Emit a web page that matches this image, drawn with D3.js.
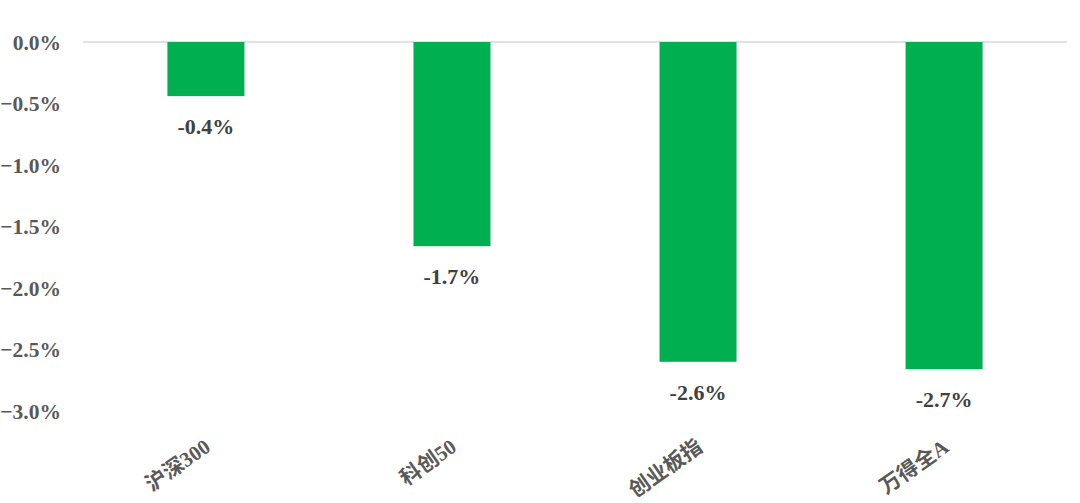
<!DOCTYPE html>
<html>
<head>
<meta charset="utf-8">
<script src="https://cdn.jsdelivr.net/npm/d3@7"></script>
<style>
  body { margin: 0; background: #fff; }
  text { font-family: "Liberation Serif", "Noto Sans CJK SC", serif; font-weight: bold; }
</style>
</head>
<body>
<svg id="chart" width="1080" height="503"></svg>
<script>
// index names and period returns (%)
var categories = ["沪深300", "科创50", "创业板指", "万得全A"];
var values = [-0.44, -1.66, -2.60, -2.66];
var valueLabels = ["-0.4%", "-1.7%", "-2.6%", "-2.7%"];
var yTicks = [0, -0.5, -1.0, -1.5, -2.0, -2.5, -3.0];

var svg = d3.select("#chart");
var mLeft = 83, mRight = 1067, mTop = 42, mBottom = 411;

var x = d3.scaleBand().domain(categories).range([mLeft, mRight]).paddingInner(0.687).paddingOuter(0.343);
var y = d3.scaleLinear().domain([0, -3]).range([mTop, mBottom]);

// zero line
svg.append("line")
  .attr("x1", mLeft).attr("x2", mRight)
  .attr("y1", y(0)).attr("y2", y(0))
  .attr("stroke", "#d9d9d9").attr("stroke-width", 1.3);

// y tick labels
svg.append("g").selectAll("text").data(yTicks).enter().append("text")
  .attr("x", 61).attr("y", function(d){ return y(d); })
  .attr("dy", "0.35em")
  .attr("text-anchor", "end")
  .attr("font-size", 21.5)
  .attr("fill", "#595959")
  .text(function(d){ return d3.format(".1f")(d) + "%"; });

// bars
svg.append("g").selectAll("rect").data(values).enter().append("rect")
  .attr("x", function(d, i){ return x(categories[i]); })
  .attr("width", x.bandwidth())
  .attr("y", y(0))
  .attr("height", function(d){ return y(d) - y(0); })
  .attr("fill", "#00b050");

// value labels
svg.append("g").selectAll("text").data(values).enter().append("text")
  .attr("x", function(d, i){ return x(categories[i]) + x.bandwidth() / 2; })
  .attr("y", function(d){ return y(d) + 38; })
  .attr("text-anchor", "middle")
  .attr("font-size", 22)
  .attr("fill", "#404040")
  .text(function(d, i){ return valueLabels[i]; });

// category labels (rotated)
svg.append("g").selectAll("text").data(categories).enter().append("text")
  .attr("transform", function(d){
    var cx = x(d) + x.bandwidth() / 2 + 6;
    return "translate(" + cx + ",450)rotate(-35)";
  })
  .attr("text-anchor", "end")
  .attr("font-size", 21)
  .attr("fill", "#595959")
  .text(function(d){ return d; });
</script>
</body>
</html>
